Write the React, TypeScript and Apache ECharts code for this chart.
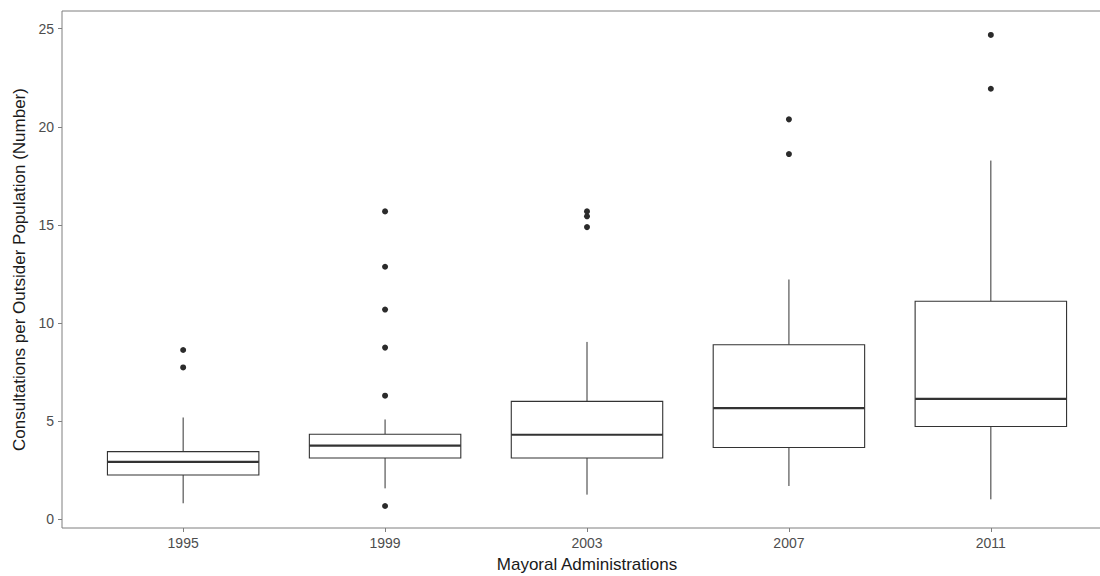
import React, { useEffect, useRef } from "react";
import * as echarts from "echarts";

const categories = ["1995", "1999", "2003", "2007", "2011"];
const whiskerLow = [0.82, 1.58, 1.26, 1.7, 1.02];
const q1 = [2.26, 3.13, 3.13, 3.66, 4.73];
const median = [2.93, 3.76, 4.31, 5.67, 6.14];
const q3 = [3.45, 4.34, 6.01, 8.9, 11.11];
const whiskerHigh = [5.19, 5.09, 9.04, 12.22, 18.28];
const outliers = [
  [8.63, 7.74],
  [15.69, 12.87, 10.69, 8.75, 6.3, 0.68],
  [15.69, 15.44, 14.89],
  [20.38, 18.61],
  [24.68, 21.94],
];
const yTicks = [0, 5, 10, 15, 20, 25];
const xTicks = [0, 1, 2, 3, 4];

const FONT = "'Liberation Sans', Arial, sans-serif";
const LINE = "#333333";

export default function App() {
  const ref = useRef<HTMLDivElement>(null);
  useEffect(() => {
    if (!ref.current) return;
    const chart = echarts.init(ref.current, undefined, { renderer: "svg" });
    const boxData = categories.map((_, i) => [i, whiskerLow[i], q1[i], median[i], q3[i], whiskerHigh[i]]);
    const outlierData: number[][] = [];
    outliers.forEach((list, i) => list.forEach((v) => outlierData.push([i, v])));
    const BOX_W = 0.75;
    chart.setOption({
      animation: false,
      backgroundColor: "#ffffff",
      grid: {
        left: 62,
        width: 1050,
        top: 11,
        bottom: 48,
        containLabel: false,
        outerBoundsMode: "none",
        show: true,
        borderColor: "#7f7f7f",
        borderWidth: 1,
        backgroundColor: "#ffffff",
      },
      xAxis: {
        type: "value",
        min: -0.6,
        max: 4.6,
        name: "Mayoral Administrations",
        nameLocation: "middle",
        nameGap: 28,
        nameTextStyle: { color: "#1a1a1a", fontSize: 17, fontFamily: FONT },
        axisLine: { show: false, onZero: false },
        axisTick: { show: true, length: 4, customValues: xTicks, lineStyle: { color: "#7f7f7f" } },
        axisLabel: {
          customValues: xTicks,
          margin: 8,
          color: "#4d4d4d",
          fontSize: 14,
          fontFamily: FONT,
          formatter: (v: number) => categories[Math.round(v)] ?? "",
        },
        splitLine: { show: false },
      },
      yAxis: {
        type: "value",
        min: -0.44,
        max: 25.9,
        name: "Consultations per Outsider Population (Number)",
        nameLocation: "middle",
        nameGap: 30,
        nameTextStyle: { color: "#1a1a1a", fontSize: 17, fontFamily: FONT },
        axisLine: { show: false, onZero: false },
        axisTick: { show: true, length: 4, customValues: yTicks, lineStyle: { color: "#7f7f7f" } },
        axisLabel: {
          customValues: yTicks,
          margin: 8,
          color: "#4d4d4d",
          fontSize: 14,
          fontFamily: FONT,
        },
        splitLine: { show: false },
      },
      series: [
        {
          type: "custom",
          data: boxData,
          renderItem: (params: any, api: any) => {
            const x = api.value(0);
            const pLo = api.coord([x, api.value(1)]);
            const pQ1 = api.coord([x, api.value(2)]);
            const pMed = api.coord([x, api.value(3)]);
            const pQ3 = api.coord([x, api.value(4)]);
            const pHi = api.coord([x, api.value(5)]);
            const half = api.size([BOX_W, 0])[0] / 2;
            const cx = pMed[0];
            return {
              type: "group",
              children: [
                {
                  type: "line",
                  shape: { x1: cx, y1: pQ3[1], x2: cx, y2: pHi[1] },
                  style: { stroke: LINE, lineWidth: 1 },
                },
                {
                  type: "line",
                  shape: { x1: cx, y1: pQ1[1], x2: cx, y2: pLo[1] },
                  style: { stroke: LINE, lineWidth: 1 },
                },
                {
                  type: "rect",
                  shape: { x: cx - half, y: pQ3[1], width: half * 2, height: pQ1[1] - pQ3[1] },
                  style: { fill: "#ffffff", stroke: LINE, lineWidth: 1.1 },
                },
                {
                  type: "line",
                  shape: { x1: cx - half, y1: pMed[1], x2: cx + half, y2: pMed[1] },
                  style: { stroke: LINE, lineWidth: 2.2 },
                },
              ],
            };
          },
        },
        {
          type: "scatter",
          data: outlierData,
          symbol: "circle",
          symbolSize: 6,
          itemStyle: { color: "#2b2b2b", opacity: 1 },
        },
      ],
    });
    return () => chart.dispose();
  }, []);
  return (
    <div
      ref={ref}
      style={{ position: "fixed", left: 0, top: 0, width: 1100, height: 576 }}
    />
  );
}
